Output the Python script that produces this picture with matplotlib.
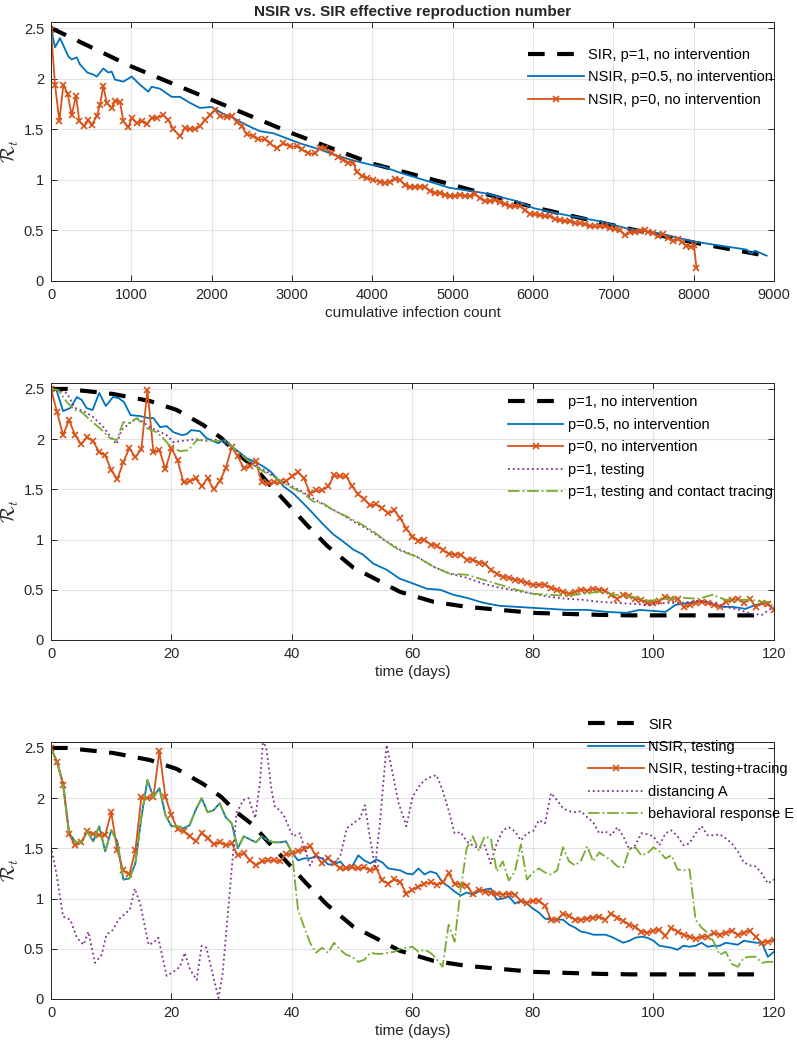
import matplotlib
matplotlib.use('Agg')
import matplotlib.pyplot as plt
from matplotlib.ticker import FuncFormatter

plt.rcParams['font.family'] = 'Liberation Sans'
plt.rcParams['mathtext.fontset'] = 'cm'

# MATLAB default colours
c_blue = '#0072BD'
c_orange = '#D95319'
c_purple = '#7E2F8E'
c_green = '#77AC30'
c_txt = '#262626'

# ---------- panel 1: R_t vs cumulative infection count ----------
sir_count = [0, 1000, 2000, 3000, 4000, 5000, 6000, 7000, 8000, 8900]
sir_r_count = [2.5, 2.12, 1.79, 1.46, 1.16, 0.95, 0.73, 0.55, 0.38, 0.25]

half_count = [0, 50, 112, 216, 257, 320, 361, 452, 527, 569, 651, 714, 755, 797, 900, 1004, 1108, 1212, 1253, 1357,
              1502, 1606, 1730, 1855, 2000, 2125, 2270, 2436, 2602, 2768, 2934, 3100, 3349, 3515, 3722, 3972, 4137,
              4345, 4966, 5382, 5797, 6005, 6420, 6835, 7167, 7582, 7997, 8412, 8660, 8722, 8764, 8909]
half_r_count = [2.5, 2.31, 2.4, 2.22, 2.19, 2.21, 2.14, 2.06, 2.04, 2.02, 2.1, 2.06, 2.07, 1.99, 1.97, 2.02, 1.94, 1.87,
                1.92, 1.9, 1.82, 1.82, 1.76, 1.71, 1.72, 1.66, 1.61, 1.54, 1.48, 1.46, 1.41, 1.36, 1.3, 1.25, 1.2,
                1.15, 1.13, 1.07, 0.92, 0.87, 0.79, 0.72, 0.65, 0.59, 0.52, 0.47, 0.39, 0.34, 0.31, 0.27, 0.30, 0.25]

zero_count = [0, 50, 104, 154, 207, 257, 311, 353, 411, 465, 506, 569, 610, 651, 693, 755, 797, 859, 900, 963,
              1004, 1066, 1129, 1191, 1253, 1316, 1399, 1461, 1523, 1606, 1668, 1730, 1793, 1855, 1917, 1980, 2042,
              2104, 2187, 2249, 2312, 2374, 2436, 2519, 2581, 2664, 2726, 2810, 2893, 2976, 3059, 3121, 3204, 3287,
              3349, 3411, 3494, 3577, 3640, 3702, 3764, 3805, 3868, 3930, 4013, 4096, 4158, 4220, 4282,
              4344, 4406, 4468, 4531, 4593, 4655, 4717, 4779, 4842, 4904, 4966, 5028, 5091, 5153, 5215, 5277,
              5339, 5402, 5464, 5526, 5588, 5650, 5713, 5775, 5837, 5899, 5961, 6024, 6086, 6149, 6211, 6273,
              6336, 6398, 6460, 6522, 6585, 6647, 6709, 6771, 6833, 6896, 6958, 7020, 7082, 7144, 7207, 7269,
              7331, 7393, 7435, 7497, 7559, 7622, 7684, 7746, 7808, 7850, 7912, 7974, 8003, 8036]
zero_r_count = [2.48, 1.94, 1.58, 1.94, 1.85, 1.64, 1.83, 1.58, 1.53, 1.59, 1.54, 1.63, 1.74, 1.93, 1.76, 1.71, 1.78,
                1.77, 1.58, 1.52, 1.61, 1.56, 1.58, 1.55, 1.61, 1.61, 1.64, 1.59, 1.50, 1.43, 1.51, 1.50, 1.50, 1.53,
                1.59, 1.64, 1.69, 1.63, 1.62, 1.63, 1.57, 1.53, 1.45, 1.43, 1.40, 1.40, 1.36, 1.31, 1.36, 1.33,
                1.33, 1.30, 1.26, 1.26, 1.31, 1.31, 1.26, 1.23, 1.20, 1.17, 1.17, 1.08, 1.04, 1.02, 1.00, 0.98,
                0.97, 0.98, 1.01,
                1.0, 0.95, 0.93, 0.93, 0.93, 0.93, 0.89, 0.87, 0.87, 0.85, 0.84, 0.84, 0.85, 0.84, 0.84, 0.86,
                0.82, 0.79, 0.79, 0.80, 0.78, 0.76, 0.74, 0.74, 0.74, 0.70, 0.66, 0.66, 0.65, 0.64, 0.64, 0.61,
                0.60, 0.59, 0.59, 0.57, 0.57, 0.56, 0.54, 0.54, 0.54, 0.54, 0.52, 0.51, 0.50, 0.45, 0.48, 0.48,
                0.49, 0.50, 0.48, 0.47, 0.44, 0.46, 0.42, 0.40, 0.41, 0.39, 0.35, 0.34, 0.36, 0.13]

# ---------- SIR curve vs time (panels 2 and 3) ----------
sir_day = [0, 2.6, 10.3, 16.4, 20.9, 25.3, 28.3, 30.8, 33.6, 35.8, 38.6, 42.4, 45.8, 50.2, 54.1, 57.9, 63.5, 69,
           74.5, 80, 85.5, 91, 96.5, 102, 110, 118]
sir_r_day = [2.5, 2.5, 2.45, 2.38, 2.29, 2.14, 2.01, 1.86, 1.73, 1.58, 1.40, 1.15, 0.94, 0.72, 0.60, 0.48, 0.38,
             0.33, 0.30, 0.27, 0.26, 0.25, 0.245, 0.245, 0.245, 0.245]

# ---------- panel 2 ----------
half_day = [0, 0.9, 2, 3.2, 4.3, 5.1, 5.9, 6.9, 8, 9.1, 10.3, 11.2, 12.1, 13.2, 14.8, 16.2, 17, 18.1, 19.2, 20.3,
            21.7, 22.5, 23.3, 24.7, 25.8, 26.9, 27.8, 28.6, 29.7, 30.8, 32.5, 33.6, 35.2, 36.4, 37.5, 38.6, 40.2,
            41.9, 43.5, 45.2, 46.9, 48.5, 50.2, 51.8, 53.5, 55.7, 57.9, 60.2, 62.4, 64.6, 66.8, 69, 71.8, 74.5,
            77.3, 80, 82.8, 85.5, 88.9, 92.2, 95.5, 97.7, 102, 103.7, 105.9, 108.7, 110.9, 113.1, 115.3, 117,
            118.6, 119.7]
half_r_day = [2.5, 2.49, 2.28, 2.31, 2.42, 2.39, 2.31, 2.29, 2.46, 2.33, 2.42, 2.41, 2.37, 2.24, 2.23, 2.21, 2.21,
              2.12, 2.13, 2.07, 2.04, 2.05, 2.09, 2.08, 2.01, 1.98, 1.96, 1.99, 1.94, 1.89, 1.81, 1.78, 1.73,
              1.68, 1.61, 1.53, 1.46, 1.36, 1.26, 1.15, 1.05, 0.98, 0.90, 0.85, 0.76, 0.70, 0.61, 0.56, 0.51,
              0.50, 0.45, 0.42, 0.37, 0.34, 0.33, 0.32, 0.31, 0.30, 0.30, 0.28, 0.27, 0.30, 0.28, 0.35, 0.37,
              0.38, 0.33, 0.33, 0.31, 0.35, 0.37, 0.32]

days = list(range(121))
zero_r_day = [2.5, 2.27, 2.04, 2.19, 2.04, 1.95, 2.02, 1.98, 1.87, 1.84,
              1.69, 1.60, 1.77, 1.91, 1.82, 1.90, 2.49, 1.87, 1.89, 1.70,
              1.91, 1.79, 1.57, 1.58, 1.61, 1.53, 1.61, 1.50, 1.58, 1.71,
              1.92, 1.83, 1.71, 1.73, 1.78, 1.57, 1.56, 1.57, 1.57, 1.58,
              1.63, 1.67, 1.61, 1.46, 1.49, 1.49, 1.53, 1.64, 1.63, 1.63,
              1.53, 1.45, 1.40, 1.34, 1.35, 1.31, 1.26, 1.29, 1.21, 1.11,
              1.03, 0.99, 1.00, 0.95, 0.94, 0.90, 0.86, 0.85, 0.85, 0.80,
              0.80, 0.77, 0.76, 0.70, 0.66, 0.63, 0.62, 0.60, 0.59, 0.57,
              0.55, 0.55, 0.55, 0.52, 0.50, 0.48, 0.46, 0.48, 0.50, 0.49,
              0.51, 0.50, 0.49, 0.45, 0.41, 0.45, 0.44, 0.41, 0.40, 0.37,
              0.37, 0.39, 0.43, 0.41, 0.41, 0.33, 0.35, 0.37, 0.38, 0.37,
              0.35, 0.33, 0.38, 0.40, 0.41, 0.37, 0.41, 0.33, 0.37, 0.36, 0.30]

test_day = [0, 2.6, 4, 5.4, 7, 8.7, 9.8, 10.9, 11.7, 13.1, 14.2, 15.3, 16.4, 17.8, 19.2, 20.3, 21.4, 22.8, 24.2,
            25.6, 26.9, 28.3, 29.7, 31.4, 33.6, 35.8, 38, 39.7, 41.3, 43.5, 45.8, 48, 50.2, 52.4, 55.2, 57.9,
            60.7, 63.5, 66.2, 69, 71.8, 74.5, 77.3, 80, 82.8, 85.5, 88.3, 91, 93.8, 96.5, 99.3, 102, 104.8,
            107.5, 109.8, 112, 114.2, 116.4, 118, 119.2, 120]
test_r_day = [2.5, 2.46, 2.31, 2.28, 2.22, 2.12, 2.03, 1.95, 2.09, 2.16, 2.21, 2.17, 2.12, 2.08, 2.04, 1.97, 1.98,
              1.99, 2.0, 1.98, 2.0, 1.98, 1.93, 1.86, 1.74, 1.68, 1.59, 1.54, 1.49, 1.41, 1.33, 1.26, 1.18, 1.11,
              1.0, 0.9, 0.83, 0.73, 0.66, 0.62, 0.56, 0.52, 0.49, 0.46, 0.43, 0.41, 0.40, 0.38, 0.37, 0.36, 0.35,
              0.37, 0.37, 0.39, 0.37, 0.33, 0.30, 0.26, 0.25, 0.30, 0.33]

trace_day = [0, 1.2, 2.6, 4, 5.1, 6.5, 8.1, 9.8, 10.9, 12, 13.1, 14.2, 15.9, 17.5, 18.6, 19.8, 21.4, 22.8, 24.2,
             25.8, 27.5, 29.2, 30.3, 31.9, 33.6, 35.2, 36.9, 38.6, 40.2, 41.9, 43.5, 45.2, 46.9, 49.1, 51.3, 53.5,
             55.7, 57.9, 60.7, 63.5, 66.2, 69, 71.8, 74.5, 77.3, 80, 82.8, 85.5, 88.3, 91, 93.8, 96.5, 99.3, 102,
             104.8, 107.5, 109.8, 112, 114.2, 116.4, 118, 119.2, 120]
trace_r_day = [2.5, 2.49, 2.37, 2.29, 2.27, 2.19, 2.11, 2.01, 1.99, 2.17, 2.16, 2.21, 2.11, 2.07, 2.01, 1.93, 1.88,
               1.89, 1.99, 1.99, 1.98, 1.99, 1.91, 1.83, 1.74, 1.68, 1.63, 1.56, 1.51, 1.46, 1.38, 1.36, 1.29,
               1.23, 1.16, 1.08, 0.98, 0.89, 0.83, 0.73, 0.66, 0.65, 0.60, 0.55, 0.50, 0.46, 0.45, 0.44, 0.46,
               0.48, 0.45, 0.43, 0.39, 0.41, 0.42, 0.41, 0.45, 0.40, 0.40, 0.40, 0.38, 0.38, 0.32]

# ---------- panel 3 ----------
nsir_test = [2.5, 2.36, 2.15, 1.65, 1.57, 1.55, 1.67, 1.57, 1.72, 1.47,
             1.68, 1.57, 1.19, 1.20, 1.35, 1.81, 2.18, 2.01, 2.10, 1.83,
             1.72, 1.72, 1.70, 1.73, 1.88, 2.0, 1.86, 1.88, 1.95, 1.81,
             1.75, 1.50, 1.62, 1.59, 1.56, 1.62, 1.58, 1.56, 1.56, 1.57,
             1.46, 1.38, 1.40, 1.40, 1.42, 1.40, 1.34, 1.34, 1.37, 1.30,
             1.32, 1.43, 1.38, 1.35, 1.39, 1.36, 1.30, 1.29, 1.28, 1.25,
             1.24, 1.30, 1.24, 1.27, 1.25, 1.16, 1.12, 1.07, 1.03, 1.06,
             1.04, 1.07, 1.09, 1.10, 0.99, 1.00, 1.02, 0.95, 0.98, 0.95,
             0.90, 0.86, 0.80, 0.79, 0.79, 0.79, 0.74, 0.71, 0.67, 0.66,
             0.64, 0.64, 0.64, 0.62, 0.59, 0.56, 0.58, 0.61, 0.62, 0.61,
             0.58, 0.53, 0.52, 0.51, 0.49, 0.53, 0.52, 0.53, 0.56, 0.52,
             0.53, 0.53, 0.56, 0.55, 0.54, 0.58, 0.57, 0.56, 0.56, 0.42, 0.47]

nsir_trace = [2.5, 2.36, 2.13, 1.64, 1.53, 1.56, 1.67, 1.64, 1.63, 1.63,
              1.86, 1.48, 1.28, 1.24, 1.48, 2.01, 2.0, 2.01, 2.47, 2.01,
              1.83, 1.69, 1.67, 1.62, 1.57, 1.65, 1.60, 1.54, 1.56, 1.53,
              1.55, 1.43, 1.45, 1.38, 1.33, 1.37, 1.38, 1.38, 1.37, 1.44,
              1.45, 1.47, 1.49, 1.52, 1.43, 1.35, 1.40, 1.35, 1.30, 1.30,
              1.31, 1.30, 1.31, 1.28, 1.30, 1.18, 1.15, 1.19, 1.16, 1.05,
              1.09, 1.12, 1.15, 1.16, 1.14, 1.16, 1.25, 1.15, 1.14, 1.13,
              1.05, 1.09, 1.07, 1.06, 1.05, 1.04, 1.05, 1.04, 0.98, 0.96,
              0.98, 0.98, 0.93, 0.79, 0.79, 0.85, 0.83, 0.79, 0.79, 0.80,
              0.81, 0.82, 0.79, 0.85, 0.81, 0.78, 0.74, 0.72, 0.67, 0.66,
              0.68, 0.69, 0.63, 0.71, 0.67, 0.64, 0.62, 0.60, 0.62, 0.62,
              0.66, 0.64, 0.66, 0.68, 0.64, 0.66, 0.68, 0.62, 0.56, 0.57, 0.59]

dist_day = [0, 0.9, 2, 3.2, 4.3, 5.4, 6.2, 7.3, 8.4, 9.2, 10.3, 11.2, 12.3, 13.1, 13.9, 14.8, 16.2, 17, 17.8, 19.2,
            20.3, 21.4, 22.2, 23.1, 24.2, 25, 25.8, 26.9, 27.8, 28.5, 29.7, 30.8, 31.9, 32.8, 33.9, 34.7, 35.2,
            35.8, 36.6, 37.2, 38, 38.8, 39.7, 40.2, 41.3, 42.2, 43, 43.8, 44.9, 46, 46.9, 48, 49.1, 50.2, 51.3,
            52.1, 52.9, 53.8, 54.6, 55.7, 56.5, 57.7] + list(range(59, 121))
dist_r = [1.52, 1.25, 0.82, 0.79, 0.61, 0.54, 0.67, 0.36, 0.44, 0.64, 0.69, 0.79, 0.85, 0.89, 1.10, 0.95, 0.54, 0.56,
          0.61, 0.23, 0.27, 0.32, 0.46, 0.29, 0.19, 0.53, 0.51, 0.23, 0.01, 0.26, 1.09, 1.85, 1.98, 2.00, 1.80,
          2.16, 2.58, 2.48, 2.08, 1.91, 1.88, 1.81, 1.68, 1.62, 1.65, 1.48, 1.33, 1.42, 1.40, 1.40, 1.35, 1.42,
          1.70, 1.75, 1.80, 1.93, 1.62, 1.32, 1.75, 2.53, 2.31, 1.95,
          1.72, 2.01, 2.11, 2.18, 2.21, 2.23, 2.08, 1.88, 1.65, 1.66,
          1.57, 1.53, 1.50, 1.53, 1.35, 1.55, 1.68, 1.71, 1.67, 1.58,
          1.65, 1.67, 1.78, 1.75, 2.05, 1.98, 1.90, 1.87, 1.86, 1.87,
          1.81, 1.76, 1.65, 1.67, 1.63, 1.71, 1.62, 1.49, 1.53, 1.65,
          1.64, 1.62, 1.53, 1.65, 1.68, 1.62, 1.53, 1.55, 1.65, 1.72,
          1.63, 1.63, 1.64, 1.60, 1.55, 1.47, 1.36, 1.33, 1.32, 1.25,
          1.15, 1.19]

# behavioural response E: identical to NSIR testing up to day 40
resp_E = nsir_test[:41] + [0.89, 0.72, 0.56, 0.46, 0.51, 0.46, 0.56, 0.49, 0.44,
                           0.42, 0.37, 0.39, 0.46, 0.45, 0.45, 0.46, 0.47, 0.50, 0.51,
                           0.52, 0.47, 0.49, 0.46, 0.40, 0.32, 0.74, 0.57, 1.09, 1.50,
                           1.62, 1.48, 1.62, 1.60, 1.27, 1.37, 1.18, 1.27, 1.54, 1.19,
                           1.26, 1.30, 1.26, 1.24, 1.28, 1.51, 1.37, 1.33, 1.38, 1.52,
                           1.37, 1.46, 1.42, 1.38, 1.32, 1.31, 1.49, 1.51, 1.43, 1.45,
                           1.51, 1.47, 1.40, 1.43, 1.29, 1.28, 1.29, 0.79, 0.71, 0.66,
                           0.57, 0.44, 0.47, 0.35, 0.32, 0.41, 0.42, 0.42, 0.36, 0.37, 0.37]

fig = plt.figure(figsize=(7.97, 10.5), dpi=100)
ax1 = fig.add_axes([0.064, 0.7324, 0.907, 0.2467])
ax2 = fig.add_axes([0.064, 0.3905, 0.907, 0.2448])
ax3 = fig.add_axes([0.064, 0.0486, 0.907, 0.2448])

sir_style = dict(color='black', lw=3, linestyle=(0, (4, 3)))
leg_style = dict(frameon=False, fontsize=10.5, handlelength=3.8, handletextpad=0.3, labelspacing=0.58,
                 borderpad=0, borderaxespad=0, loc='upper left')


def style_axes(ax, xmax, xstep, xlabel):
    ax.set_xlim(0, xmax)
    ax.set_ylim(0, 2.56)
    ax.set_xticks(range(0, xmax + 1, xstep))
    ax.set_yticks([0, 0.5, 1, 1.5, 2, 2.5])
    ax.yaxis.set_major_formatter(FuncFormatter(lambda v, p: '%g' % v))
    ax.grid(True, color='#e3e3e3', lw=0.8)
    ax.set_axisbelow(True)
    ax.tick_params(direction='in', top=True, right=True, length=4, width=0.7,
                   labelsize=10.5, colors=c_txt, pad=5)
    for s in ax.spines.values():
        s.set_color(c_txt)
        s.set_linewidth(0.7)
    ax.set_xlabel(xlabel, fontsize=11, color=c_txt, labelpad=3)
    ax.set_ylabel(r'$\mathcal{R}_t$', fontsize=14, color=c_txt, labelpad=2)


# panel 1
ax1.plot(sir_count, sir_r_count, label='SIR, p=1, no intervention', **sir_style)
ax1.plot(half_count, half_r_count, color=c_blue, lw=1.3, label='NSIR, p=0.5, no intervention')
ax1.plot(zero_count, zero_r_count, color=c_orange, lw=1.3, marker='x', ms=4, mew=1.2,
         label='NSIR, p=0, no intervention')
style_axes(ax1, 9000, 1000, 'cumulative infection count')
ax1.set_title('NSIR vs. SIR effective reproduction number', fontsize=11, fontweight='bold', color=c_txt, pad=4)
ax1.legend(bbox_to_anchor=(0.660, 0.90), **leg_style)

# panel 2
ax2.plot(sir_day, sir_r_day, label='p=1, no intervention', **sir_style)
ax2.plot(half_day, half_r_day, color=c_blue, lw=1.3, label='p=0.5, no intervention')
ax2.plot(days, zero_r_day, color=c_orange, lw=1.3, marker='x', ms=4, mew=1.2, label='p=0, no intervention')
ax2.plot(test_day, test_r_day, color=c_purple, lw=1.3, linestyle=':', label='p=1, testing')
ax2.plot(trace_day, trace_r_day, color=c_green, lw=1.3, linestyle='-.', label='p=1, testing and contact tracing')
style_axes(ax2, 120, 20, 'time (days)')
ax2.legend(bbox_to_anchor=(0.632, 0.952), **leg_style)

# panel 3
ax3.plot(sir_day, sir_r_day, label='SIR', **sir_style)
ax3.plot(days, nsir_test, color=c_blue, lw=1.3, label='NSIR, testing')
ax3.plot(days, nsir_trace, color=c_orange, lw=1.3, marker='x', ms=4, mew=1.2, label='NSIR, testing+tracing')
ax3.plot(dist_day, dist_r, color=c_purple, lw=1.3, linestyle=':', label='distancing A')
ax3.plot(days, resp_E, color=c_green, lw=1.3, linestyle='-.', label='behavioral response E')
style_axes(ax3, 120, 20, 'time (days)')
ax3.legend(bbox_to_anchor=(0.743, 1.095), **leg_style)

fig.savefig('out.png', dpi=100)
